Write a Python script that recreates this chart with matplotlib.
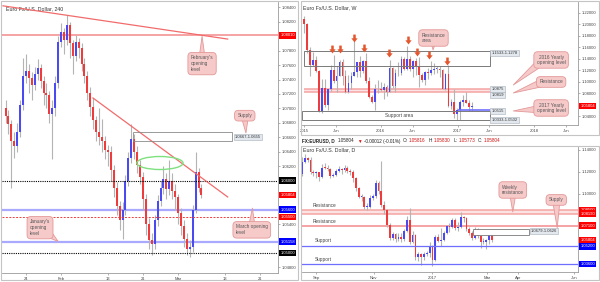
import numpy as np
import pandas as pd
import matplotlib
matplotlib.use("Agg")
import matplotlib.pyplot as plt
import matplotlib.dates as mdates
from matplotlib.patches import Rectangle, Ellipse
from matplotlib.path import Path

plt.rcParams['font.family'] = ['Liberation Sans', 'DejaVu Sans']

W, H = 600, 282

# ---------------- 4H panel: x = trading days counted from 24 Jan ----------------
h4_first = -3.5
h4_step = 0.5
h4_open0 = 1.0700
h4_close = [1.0690, 1.0678, 1.0655, 1.0648, 1.0668, 1.0705, 1.0745, 1.0752, 1.0742, 1.0733,
            1.0748, 1.0756, 1.0738, 1.0722, 1.0718, 1.0692, 1.0700, 1.0735, 1.0792, 1.0806,
            1.0795, 1.0815, 1.0790, 1.0772, 1.0792, 1.0784, 1.0762, 1.0745, 1.0722, 1.0702,
            1.0684, 1.0668, 1.0660, 1.0655, 1.0642, 1.0640, 1.0615, 1.0590, 1.0565, 1.0545,
            1.0560, 1.0600, 1.0632, 1.0658, 1.0640, 1.0622, 1.0605, 1.0575, 1.0540, 1.0518,
            1.0512, 1.0545, 1.0572, 1.0590, 1.0603, 1.0588, 1.0600, 1.0586, 1.0578, 1.0555,
            1.0538, 1.0520, 1.0506, 1.0508, 1.0560, 1.0612, 1.0590, 1.0580]
h4_high = [1.0712, 1.0698, 1.0684, 1.0668, 1.0680, 1.0712, 1.0770, 1.0775, 1.0762, 1.0750,
           1.0758, 1.0768, 1.0762, 1.0745, 1.0735, 1.0724, 1.0712, 1.0745, 1.0800, 1.0818,
           1.0812, 1.0829, 1.0820, 1.0795, 1.0802, 1.0798, 1.0790, 1.0770, 1.0752, 1.0730,
           1.0715, 1.0690, 1.0700, 1.0685, 1.0662, 1.0650, 1.0648, 1.0622, 1.0598, 1.0572,
           1.0570, 1.0608, 1.0640, 1.0678, 1.0665, 1.0648, 1.0628, 1.0612, 1.0582, 1.0548,
           1.0528, 1.0552, 1.0580, 1.0600, 1.0620, 1.0610, 1.0628, 1.0610, 1.0595, 1.0582,
           1.0562, 1.0545, 1.0528, 1.0518, 1.0566, 1.0640, 1.0618, 1.0596]
h4_low = [1.0680, 1.0665, 1.0590, 1.0632, 1.0640, 1.0660, 1.0698, 1.0735, 1.0722, 1.0712,
          1.0725, 1.0740, 1.0728, 1.0705, 1.0700, 1.0680, 1.0630, 1.0690, 1.0728, 1.0785,
          1.0775, 1.0788, 1.0770, 1.0748, 1.0765, 1.0770, 1.0752, 1.0735, 1.0712, 1.0690,
          1.0672, 1.0655, 1.0650, 1.0640, 1.0630, 1.0620, 1.0600, 1.0578, 1.0552, 1.0532,
          1.0520, 1.0552, 1.0592, 1.0625, 1.0630, 1.0610, 1.0595, 1.0560, 1.0525, 1.0505,
          1.0497, 1.0505, 1.0538, 1.0565, 1.0582, 1.0575, 1.0580, 1.0575, 1.0560, 1.0540,
          1.0525, 1.0508, 1.0497, 1.0494, 1.0502, 1.0555, 1.0584, 1.0576]
h4_ticks = [0, 6, 14, 20, 26, 34, 40]
h4_ticklabels = ['24', 'Feb', '13', '21', 'Mar', '13', '21']
h4_yticks = [1.048, 1.054, 1.062, 1.064, 1.066, 1.068, 1.070, 1.072, 1.074, 1.076, 1.078, 1.082, 1.084]
h4_trend1 = ([-3.93, 34.48], [1.0842, 1.0796])
h4_trend2 = ([11.45, 34.48], [1.07145, 1.05775])

# ---------------- Weekly panel (two-week candles) ----------------
wk_open0 = 1.2100
wk_close = [1.200, 1.156, 1.129, 1.139, 1.119, 1.049, 1.089, 1.060, 1.087, 1.120, 1.101, 1.111, 1.135,
            1.111, 1.083, 1.098, 1.111, 1.118, 1.134, 1.119, 1.136, 1.101, 1.074, 1.065, 1.088, 1.087,
            1.086, 1.092, 1.083, 1.125, 1.093, 1.115, 1.116, 1.140, 1.122, 1.140, 1.122, 1.137, 1.127,
            1.113, 1.104, 1.117, 1.116, 1.120, 1.123, 1.123, 1.120, 1.088, 1.114, 1.059, 1.066, 1.045,
            1.052, 1.065, 1.069, 1.064, 1.056, 1.058]
wk_high = [1.215, 1.203, 1.160, 1.153, 1.145, 1.121, 1.105, 1.105, 1.088, 1.129, 1.147, 1.128, 1.139,
           1.140, 1.120, 1.112, 1.117, 1.171, 1.135, 1.146, 1.138, 1.150, 1.108, 1.077, 1.096, 1.104,
           1.100, 1.099, 1.094, 1.138, 1.126, 1.122, 1.134, 1.146, 1.144, 1.162, 1.146, 1.139, 1.141,
           1.143, 1.115, 1.119, 1.124, 1.136, 1.133, 1.128, 1.128, 1.123, 1.115, 1.130, 1.070, 1.087,
           1.055, 1.069, 1.078, 1.083, 1.069, 1.065]
wk_low = [1.186, 1.150, 1.110, 1.127, 1.118, 1.048, 1.046, 1.057, 1.052, 1.085, 1.098, 1.082, 1.110,
          1.095, 1.081, 1.081, 1.087, 1.110, 1.109, 1.109, 1.115, 1.099, 1.072, 1.063, 1.052, 1.080,
          1.084, 1.071, 1.076, 1.082, 1.090, 1.082, 1.110, 1.113, 1.121, 1.121, 1.119, 1.109, 1.112,
          1.091, 1.100, 1.095, 1.105, 1.112, 1.114, 1.115, 1.108, 1.087, 1.086, 1.057, 1.053, 1.037,
          1.034, 1.034, 1.058, 1.063, 1.049, 1.050]
wk_tick_dates = ['2015-01-01', '2015-06-01', '2016-01-01', '2016-06-01',
                 '2017-01-01', '2017-06-01', '2018-01-01', '2018-06-01']
wk_ticklabels = ['2015', 'Jun', '2016', 'Jun', '2017', 'Jun', '2018', 'Jun']
wk_yticks = [1.04, 1.08, 1.10, 1.12, 1.14, 1.16, 1.18, 1.20, 1.22]
wk_arrow_dates = ['2015-05-13', '2015-06-20', '2015-08-25', '2015-10-12', '2016-02-08',
                  '2016-05-08', '2016-06-20', '2016-08-20', '2016-11-13']
wk_arrow_prices = [1.1574, 1.1574, 1.1765, 1.1591, 1.1504, 1.1730, 1.1530, 1.1470, 1.1365]

# ---------------- Daily panel (three-day candles) ----------------
d_open0 = 1.1180
d_close = [1.1290, 1.1325, 1.1310, 1.1200, 1.1190, 1.1195, 1.1150, 1.1240, 1.1235, 1.1230,
           1.1160, 1.1170, 1.1210, 1.1225, 1.1215, 1.1240, 1.1205, 1.1200, 1.1140, 1.1050,
           1.0975, 1.0975, 1.0880, 1.0880, 1.0960, 1.0980, 1.1100, 1.1030, 1.0900, 1.0850,
           1.0720, 1.0600, 1.0630, 1.0590, 1.0610, 1.0590, 1.0660, 1.0760, 1.0560, 1.0620,
           1.0420, 1.0450, 1.0420, 1.0455, 1.0460, 1.0520, 1.0400, 1.0610, 1.0570, 1.0580,
           1.0640, 1.0710, 1.0700, 1.0760, 1.0690, 1.0700, 1.0790, 1.0780, 1.0680, 1.0640,
           1.0600, 1.0680, 1.0615, 1.0560, 1.0560, 1.0575, 1.0620, 1.0580]
d_high = [1.1340, 1.1365, 1.1340, 1.1340, 1.1215, 1.1210, 1.1200, 1.1270, 1.1280, 1.1260,
          1.1240, 1.1190, 1.1230, 1.1255, 1.1240, 1.1260, 1.1250, 1.1230, 1.1215, 1.1150,
          1.1060, 1.0995, 1.0980, 1.0920, 1.0990, 1.1000, 1.1125, 1.1120, 1.1300, 1.0930,
          1.0860, 1.0730, 1.0650, 1.0640, 1.0640, 1.0640, 1.0680, 1.0795, 1.0875, 1.0660,
          1.0630, 1.0470, 1.0460, 1.0470, 1.0480, 1.0560, 1.0530, 1.0620, 1.0630, 1.0690,
          1.0660, 1.0720, 1.0730, 1.0775, 1.0775, 1.0740, 1.0830, 1.0800, 1.0790, 1.0700,
          1.0660, 1.0700, 1.0690, 1.0620, 1.0600, 1.0590, 1.0630, 1.0625]
d_low = [1.1160, 1.1280, 1.1290, 1.1180, 1.1160, 1.1140, 1.1120, 1.1140, 1.1225, 1.1210,
         1.1140, 1.1150, 1.1160, 1.1200, 1.1180, 1.1200, 1.1190, 1.1170, 1.1110, 1.1030,
         1.0960, 1.0930, 1.0860, 1.0850, 1.0870, 1.0940, 1.0960, 1.1000, 1.0880, 1.0820,
         1.0700, 1.0580, 1.0580, 1.0560, 1.0570, 1.0560, 1.0570, 1.0650, 1.0540, 1.0550,
         1.0400, 1.0390, 1.0355, 1.0400, 1.0430, 1.0420, 1.0340, 1.0390, 1.0560, 1.0520,
         1.0570, 1.0630, 1.0650, 1.0690, 1.0670, 1.0660, 1.0690, 1.0740, 1.0660, 1.0620,
         1.0580, 1.0590, 1.0600, 1.0510, 1.0540, 1.0495, 1.0545, 1.0565]
d_tick_dates = ['2016-09-01', '2016-11-01', '2017-01-02', '2017-03-01', '2017-04-03', '2017-06-01']
d_ticklabels = ['Sep', 'Nov', '2017', 'Mar', 'Apr', 'Jun']
d_yticks = [1.10, 1.12, 1.14]

header = [('FX:EURUSD, D', '#222'), ('1.05804', '#222'), ('\u25bc', '#e01010'),
          ('-0.00012 (-0.01%)', '#222'), ('O:', '#222'), ('1.05816', '#d01010'),
          ('H:', '#222'), ('1.05830', '#d01010'), ('L:', '#222'), ('1.05773', '#d01010'),
          ('C:', '#222'), ('1.05804', '#d01010')]

PINK = '#f5a3a3'
BLUE_L = '#a9a9ff'
BLUE_D = '#6f6fff'
CALL_FC = '#f7caca'
CALL_EC = '#e39898'
fmt5 = plt.FuncFormatter(lambda v, p: '{:.5f}'.format(v))


def px_axes(fig, x0, y0, x1, y1):
    ax = fig.add_axes([x0 / W, 1 - y1 / H, (x1 - x0) / W, (y1 - y0) / H])
    for s in ['left', 'top']:
        ax.spines[s].set_visible(False)
    for s in ['right', 'bottom']:
        ax.spines[s].set_color('#9a9a9a')
        ax.spines[s].set_linewidth(0.6)
    ax.yaxis.tick_right()
    ax.tick_params(labelsize=3, length=1.5, width=0.4, colors='#777',
                   labelcolor='#444', pad=1.5)
    return ax


def border(fig, x0, y0, x1, y1):
    fig.add_artist(Rectangle((x0 / W, 1 - y1 / H), (x1 - x0) / W, (y1 - y0) / H,
                             transform=fig.transFigure, fill=False, ec='#c4c4c4', lw=0.8))


def candles(ax, x, open0, high, low, close, width, minh):
    close = np.asarray(close)
    opn = np.r_[open0, close[:-1]]
    up = close >= opn
    cols = np.where(up, '#4a4af2', '#ee3c3c')
    ax.vlines(x, low, high, color='#b4b4b4', lw=0.8, zorder=2)
    ax.bar(x, np.maximum(np.abs(close - opn), minh), bottom=np.minimum(opn, close),
           width=width, color=cols, lw=0, zorder=3)


def tag(ax, val, fc):
    ax.annotate('{:.5f}'.format(val), xy=(1, val), xycoords=ax.get_yaxis_transform(),
                xytext=(1.6, 0), textcoords='offset points', ha='left', va='center',
                fontsize=3, color='white',
                bbox=dict(boxstyle='square,pad=0.3', fc=fc, ec='none'),
                annotation_clip=False, zorder=10)


def callout(ax, text, xy, xytext, relpos=(0.5, 0.5), align='left'):
    ax.annotate(text, xy=xy, xytext=xytext, fontsize=3.4, color='#555',
                ha='center', va='center', multialignment=align,
                bbox=dict(boxstyle='round,pad=0.6,rounding_size=0.8', fc=CALL_FC, ec=CALL_EC, lw=0.6),
                arrowprops=dict(arrowstyle='wedge,tail_width=1.6,shrink_factor=0.5',
                                fc=CALL_FC, ec=CALL_EC, lw=0.6, patchA=None,
                                shrinkA=0, shrinkB=0, relpos=relpos),
                annotation_clip=False, zorder=9)


def lvl_label(ax, text, x, y):
    ax.text(x, y, text, fontsize=3, color='#333', ha='left', va='center', zorder=8,
            clip_on=False, bbox=dict(boxstyle='square,pad=0.25', fc='#e2e8ee', ec='#a6b0ba', lw=0.4))


def dn(s):
    return mdates.date2num(pd.Timestamp(s))


fig = plt.figure(figsize=(W / 100, H / 100), dpi=100)
fig.patch.set_facecolor('white')

border(fig, 1, 1, 298, 280)
border(fig, 301, 1, 599, 135)
border(fig, 301, 146, 599, 280)

# ================= left: 4H =================
axL = px_axes(fig, 2, 2, 278, 273)
xL = h4_first + h4_step * np.arange(len(h4_close))
candles(axL, xL, h4_open0, h4_high, h4_low, h4_close, 0.34, 0.00015)
axL.set_xlim(-4.10, 43.08)
axL.set_ylim(1.04723, 1.08473)
axL.set_yticks(h4_yticks)
axL.yaxis.set_major_formatter(fmt5)
axL.set_xticks(h4_ticks)
axL.set_xticklabels(h4_ticklabels)

axL.axhline(1.0801, color=PINK, lw=1.4, zorder=1)
axL.axhline(1.0600, color='black', lw=0.8, ls=(0, (1, 1)), zorder=4)
axL.axhline(1.0500, color='black', lw=0.8, ls=(0, (1, 1)), zorder=4)
axL.axhline(1.0560, color=BLUE_L, lw=1.6, zorder=1)
axL.axhline(1.05158, color=BLUE_L, lw=1.6, zorder=1)
axL.axhline(1.0550, color='#f03c3c', lw=0.7, ls=(0, (2, 1.5)), zorder=4)
axL.plot(*h4_trend1, color='#f26b6b', lw=0.9, zorder=4)
axL.plot(*h4_trend2, color='#f26b6b', lw=0.9, zorder=4)
axL.add_patch(Ellipse((22.9, 1.06245), 7.9, 0.0018, fill=False, ec='#7fe07f', lw=1.0, zorder=5))
axL.add_patch(Rectangle((18.29, 1.0655), 16.9, 0.0012, fill=False, ec='#8a8a8a', lw=0.6, zorder=5))
lvl_label(axL, '1.0667-1.0655', 35.7, 1.0661)
axL.text(0.014, 0.974, 'Euro Fx/U.S. Dollar, 240', transform=axL.transAxes, fontsize=3.8,
         color='#333', va='center')

callout(axL, "February's\nopening\nlevel", (30.1, 1.0800), (30.1, 1.0762))
callout(axL, 'Supply', (37.6, 1.0666), (37.4, 1.0690))
callout(axL, "January's\nopening\nlevel", (5.5, 1.0516), (2.4, 1.0535), relpos=(0.9, 0.15))
callout(axL, 'March opening\nlevel', (38.7, 1.0562), (38.6, 1.0532))

for v, c in [(1.0801, '#ff0000'), (1.0600, '#000000'), (1.05804, '#ff0000'), (1.0560, '#0000ff'),
             (1.0550, '#ff0000'), (1.05158, '#0000ff'), (1.0500, '#000000')]:
    tag(axL, v, c)

# ================= top right: weekly =================
axW = px_axes(fig, 302, 2, 578, 125)
wk_dates = pd.date_range('2015-01-02', periods=len(wk_close), freq='14D')
candles(axW, mdates.date2num(wk_dates), wk_open0, wk_high, wk_low, wk_close, 8, 0.0012)
axW.set_xlim(dn('2014-12-22'), dn('2018-07-28'))
axW.set_ylim(1.0252, 1.2391)
axW.set_yticks(wk_yticks)
axW.yaxis.set_major_formatter(fmt5)
axW.set_xticks([dn(d) for d in wk_tick_dates])
axW.set_xticklabels(wk_ticklabels)

r0, r1 = dn('2015-01-01'), dn('2017-06-06')
axW.fill_between([r0, r1], 1.0819, 1.0875, color='#fbe3e3', lw=0, zorder=1)
axW.hlines([1.0819, 1.0875], r0, r1, color=PINK, lw=1.1, zorder=1)
axW.hlines(1.0515, dn('2017-01-01'), r1, color=BLUE_D, lw=1.2, zorder=4)
axW.add_patch(Rectangle((r0, 1.1278), r1 - r0, 1.1533 - 1.1278, fill=False, ec='#7a7a7a', lw=0.7, zorder=5))
s0 = dn('2014-12-22')
axW.add_patch(Rectangle((s0, 1.0333), r1 - s0, 1.0502 - 1.0333, fill=False, ec='#7a7a7a', lw=0.7, zorder=5))
axW.text(dn('2016-03-26'), 1.0415, 'Support area', fontsize=3.4, color='#444', ha='center', va='center')
lx = dn('2017-06-11')
lvl_label(axW, '1.1533-1.1278', lx, 1.1500)
lvl_label(axW, '1.0875', lx, 1.0876)
lvl_label(axW, '1.0819', lx, 1.0776)
lvl_label(axW, '1.0515', lx, 1.0500)
lvl_label(axW, '1.0333-1.0502', lx, 1.0340)

arrow = Path([(-0.32, 1), (0.32, 1), (0.32, 0.05), (0.8, 0.05), (0, -1),
              (-0.8, 0.05), (-0.32, 0.05), (-0.32, 1)], closed=True)
axW.scatter([dn(d) for d in wk_arrow_dates], wk_arrow_prices, marker=arrow, s=32,
            color='#e4572e', lw=0, zorder=6)
axW.text(0.004, 0.95, 'Euro Fx/U.S. Dollar, W', transform=axW.transAxes, fontsize=3.8,
         color='#333', va='center')

callout(axW, 'Resistance\narea', (dn('2016-09-06'), 1.1557), (dn('2016-09-08'), 1.1765))
callout(axW, '2016 Yearly\nopening level', (dn('2017-09-23'), 1.0948), (dn('2018-03-22'), 1.1383),
        relpos=(0.1, 0.2), align='center')
callout(axW, 'Resistance', (dn('2017-09-23'), 1.0809), (dn('2018-03-22'), 1.1000),
        relpos=(0.1, 0.3), align='center')
callout(axW, '2017 Yearly\nopening level', (dn('2017-09-23'), 1.0496), (dn('2018-03-22'), 1.0548),
        relpos=(0.1, 0.4), align='center')
tag(axW, 1.05804, '#ff0000')

# ================= header between right panels =================
renderer = fig.canvas.get_renderer()
hx = 302.0
hy = 1 - 141 / H
for i, (t, c) in enumerate(header):
    txt = fig.text(hx / W, hy, t, fontsize=3.3, color=c, va='center', ha='left',
                   fontweight='bold' if i == 0 else 'normal')
    bb = txt.get_window_extent(renderer)
    hx = bb.x1 + (1.2 if t.endswith(':') else 2.6)

# ================= bottom right: daily =================
axD = px_axes(fig, 302, 147, 578, 272)
d_dates = pd.date_range('2016-08-17', periods=len(d_close), freq='3D')
candles(axD, mdates.date2num(d_dates), d_open0, d_high, d_low, d_close, 1.9, 0.0006)
axD.set_xlim(dn('2016-08-17'), dn('2017-06-05'))
axD.set_ylim(1.0287, 1.1427)
axD.set_yticks(d_yticks)
axD.yaxis.set_major_formatter(fmt5)
axD.set_xticks([dn(d) for d in d_tick_dates])
axD.set_xticklabels(d_ticklabels)

axD.axhspan(1.0819, 1.0850, color='#fbe3e3', lw=0, zorder=1)
axD.axhline(1.0850, color=PINK, lw=1.1, zorder=1)
axD.axhline(1.0819, color=PINK, lw=1.1, zorder=1)
axD.axhline(1.0710, color=PINK, lw=1.4, zorder=1)
axD.axhline(1.0520, color=BLUE_D, lw=0.9, zorder=4)
axD.axhline(1.0360, color=BLUE_D, lw=0.9, zorder=4)
tx = dn('2016-08-28')
axD.text(tx, 1.0898, 'Resistance', fontsize=3.4, color='#444', va='center')
axD.text(tx, 1.0752, 'Resistance', fontsize=3.4, color='#444', va='center')
axD.text(dn('2016-08-31'), 1.0570, 'Support', fontsize=3.4, color='#444', va='center')
axD.text(dn('2016-08-31'), 1.0403, 'Support', fontsize=3.4, color='#444', va='center')
b0, b1 = dn('2017-02-14'), dn('2017-04-14')
axD.add_patch(Rectangle((b0, 1.0626), b1 - b0, 1.0679 - 1.0626, fc='white', ec='#7a7a7a', lw=0.6, zorder=5))
lvl_label(axD, '1.0679-1.0626', dn('2017-04-16'), 1.0658)
axD.text(0.004, 0.976, 'Euro Fx/U.S. Dollar, D', transform=axD.transAxes, fontsize=3.8,
         color='#333', va='center')

callout(axD, 'Weekly\nresistance', (dn('2017-03-28'), 1.0835), (dn('2017-03-28'), 1.1035))
callout(axD, 'Supply', (dn('2017-05-14'), 1.0689), (dn('2017-05-13'), 1.0944))

for v, c in [(1.0850, '#ff0000'), (1.0819, '#ff0000'), (1.0710, '#ff0000'),
             (1.05804, '#ff0000'), (1.0520, '#0000ff'), (1.0360, '#0000ff')]:
    tag(axD, v, c)

fig.savefig('out.png', dpi=100, facecolor='white')
